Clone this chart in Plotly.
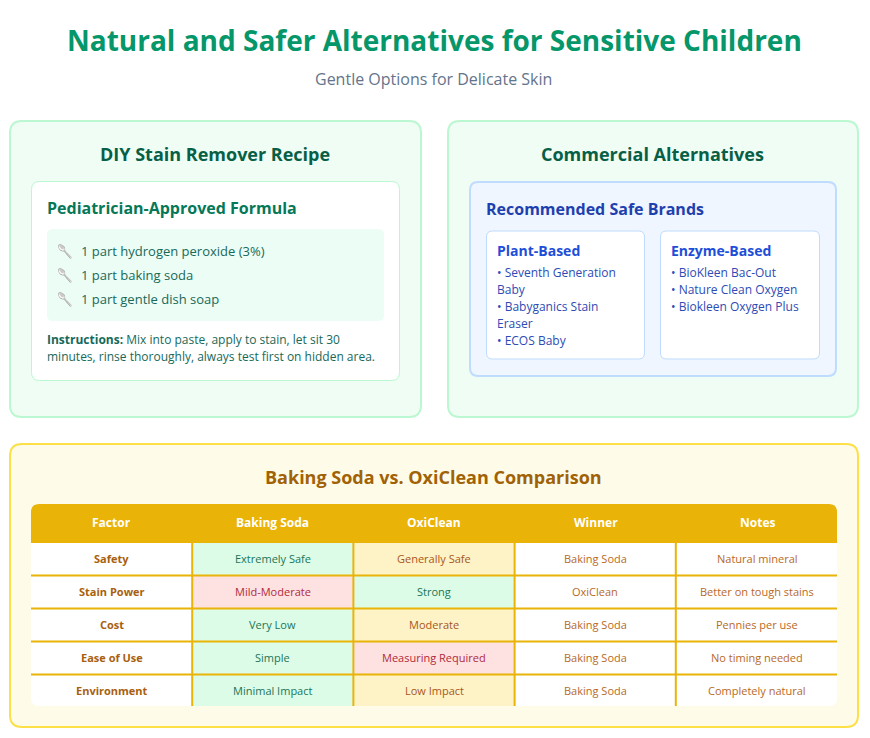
# Natural and safer alternatives infographic, drawn on a pixel canvas
import plotly.graph_objects as go

FONT = "Open Sans"

# text content
main_title = "Natural and Safer Alternatives for Sensitive Children"
sub_title = "Gentle Options for Delicate Skin"
recipe_items = ["1 part hydrogen peroxide (3%)", "1 part baking soda", "1 part gentle dish soap"]
instruction_lines = ["<b>Instructions:</b> Mix into paste, apply to stain, let sit 30",
                     "minutes, rinse thoroughly, always test first on hidden area."]
plant_lines = ["• Seventh Generation", "Baby", "• Babyganics Stain", "Eraser", "• ECOS Baby"]
enzyme_lines = ["• BioKleen Bac-Out", "• Nature Clean Oxygen", "• Biokleen Oxygen Plus"]

# comparison table
table_header = ["Factor", "Baking Soda", "OxiClean", "Winner", "Notes"]
factors = ["Safety", "Stain Power", "Cost", "Ease of Use", "Environment"]
baking_soda = ["Extremely Safe", "Mild-Moderate", "Very Low", "Simple", "Minimal Impact"]
oxiclean = ["Generally Safe", "Strong", "Moderate", "Measuring Required", "Low Impact"]
winner = ["Baking Soda", "OxiClean", "Baking Soda", "Baking Soda", "Baking Soda"]
notes = ["Natural mineral", "Better on tough stains", "Pennies per use", "No timing needed", "Completely natural"]
baking_rating = ["good", "bad", "good", "good", "good"]
oxi_rating = ["mid", "good", "mid", "bad", "mid"]

rating_fill = {"good": "#DCFCE7", "mid": "#FEF3C7", "bad": "#FEE2E2"}
rating_text = {"good": "#1B7559", "mid": "#A8561C", "bad": "#B02A3A"}

shapes = []
annotations = []


def box(x0, y0, x1, y1, fill, line=None, width=0, r=0, corners=(1, 1, 1, 1)):
    tl, tr, br, bl = [r * c for c in corners]
    path = (f"M{x0+tl},{y0} L{x1-tr},{y0} Q{x1},{y0} {x1},{y0+tr} L{x1},{y1-br} Q{x1},{y1} {x1-br},{y1} "
            f"L{x0+bl},{y1} Q{x0},{y1} {x0},{y1-bl} L{x0},{y0+tl} Q{x0},{y0} {x0+tl},{y0} Z")
    shapes.append(dict(type="path", path=path, fillcolor=fill, layer="below",
                       line=dict(color=line or fill, width=width)))


def label(x, y, text, size, color, anchor="left"):
    annotations.append(dict(x=x, y=y, text=text, xref="x", yref="y", showarrow=False,
                            xanchor=anchor, yanchor="middle", borderpad=0,
                            font=dict(family=FONT, size=size, color=color)))


# header
label(434, 40, f"<b>{main_title}</b>", 28, "#059669", "center")
label(433.5, 78.5, sub_title, 16, "#64748B", "center")

# recipe card
box(10, 121, 421, 417, "#F0FDF4", "#BBF7D0", 2, 12)
label(214.5, 154, "<b>DIY Stain Remover Recipe</b>", 18, "#065F46", "center")
box(31.5, 181.5, 399.5, 380.5, "#FFFFFF", "#BBF7D0", 1, 8)
label(46, 208, "<b>Pediatrician-Approved Formula</b>", 16, "#047857")
box(47, 229, 384, 321, "#ECFDF5", r=6)
for i, item in enumerate(recipe_items):
    y = 251 + i * 24
    label(56, y, "🥄", 13, "#065F46")
    label(80, y, item, 13, "#17695A")
for i, line in enumerate(instruction_lines):
    label(46, 339 + i * 17, line, 12, "#17695A")

# commercial card
box(448, 121, 858, 417, "#F0FDF4", "#BBF7D0", 2, 12)
label(652, 154, "<b>Commercial Alternatives</b>", 18, "#065F46", "center")
box(470, 182, 836, 376, "#EFF6FF", "#BFDBFE", 2, 8)
label(485, 209, "<b>Recommended Safe Brands</b>", 16, "#1E40AF")
box(486.5, 231, 644.5, 359, "#FFFFFF", "#BFDBFE", 1, 6)
box(660.5, 231, 819.5, 359, "#FFFFFF", "#BFDBFE", 1, 6)
label(496, 250.5, "<b>Plant-Based</b>", 14, "#1D4ED8")
label(670, 250.5, "<b>Enzyme-Based</b>", 14, "#1D4ED8")
for i, line in enumerate(plant_lines):
    label(496, 272.5 + i * 16.9, line, 12, "#2D4BB5")
for i, line in enumerate(enzyme_lines):
    label(670, 272.5 + i * 16.9, line, 12, "#2D4BB5")

# comparison card
box(10, 444, 858, 727, "#FEFCE8", "#FDE047", 2, 12)
label(433.5, 477, "<b>Baking Soda vs. OxiClean Comparison</b>", 18, "#A16207", "center")

col_x = [31 + i * 161.2 for i in range(6)]
row_y = [543, 575.5, 608.5, 641.5, 674.5, 706]
GOLD = "#EAB308"
box(col_x[0], 504, col_x[5], 543, GOLD, r=8, corners=(1, 1, 0, 0))
for j, head in enumerate(table_header):
    label((col_x[j] + col_x[j + 1]) / 2 + (1 if j > 2 else 0), 522.5, f"<b>{head}</b>", 12, "#FFFFFF", "center")

columns = [factors, baking_soda, oxiclean, winner, notes]
for i in range(len(factors)):
    y0, y1 = row_y[i], row_y[i + 1]
    yc = 558.5 + i * 33
    for j, col in enumerate(columns):
        fill, color = "#FFFFFF", "#B8691F"
        text = col[i]
        if j == 0:
            text = f"<b>{text}</b>"
            color = "#A8600F"
        elif j == 1:
            fill, color = rating_fill[baking_rating[i]], rating_text[baking_rating[i]]
        elif j == 2:
            fill, color = rating_fill[oxi_rating[i]], rating_text[oxi_rating[i]]
        corners = (0, 0, 0, 0)
        if i == len(factors) - 1 and j == 0:
            corners = (0, 0, 0, 1)
        if i == len(factors) - 1 and j == 4:
            corners = (0, 0, 1, 0)
        box(col_x[j], y0, col_x[j + 1], y1, fill, r=8, corners=corners)
        label((col_x[j] + col_x[j + 1]) / 2 + (1 if j == 4 else 0), yc, text, 11, color, "center")

# gold grid lines between rows and columns
for y in row_y[1:-1]:
    shapes.append(dict(type="line", x0=col_x[0], x1=col_x[5], y0=y, y1=y, layer="below",
                       line=dict(color=GOLD, width=2)))
for x in col_x[1:-1]:
    shapes.append(dict(type="line", x0=x, x1=x, y0=row_y[0], y1=row_y[-1], layer="below",
                       line=dict(color=GOLD, width=2)))

fig = go.Figure()
fig.update_layout(
    width=870, height=738,
    margin=dict(l=0, r=0, t=0, b=0),
    paper_bgcolor="#FFFFFF", plot_bgcolor="#FFFFFF",
    xaxis=dict(range=[0, 870], visible=False, fixedrange=True),
    yaxis=dict(range=[738, 0], visible=False, fixedrange=True),
    shapes=shapes, annotations=annotations, showlegend=False,
)
fig.write_html("out.html", config={"displayModeBar": False},
               post_script="document.body.style.margin='0';document.body.style.overflow='hidden';")
